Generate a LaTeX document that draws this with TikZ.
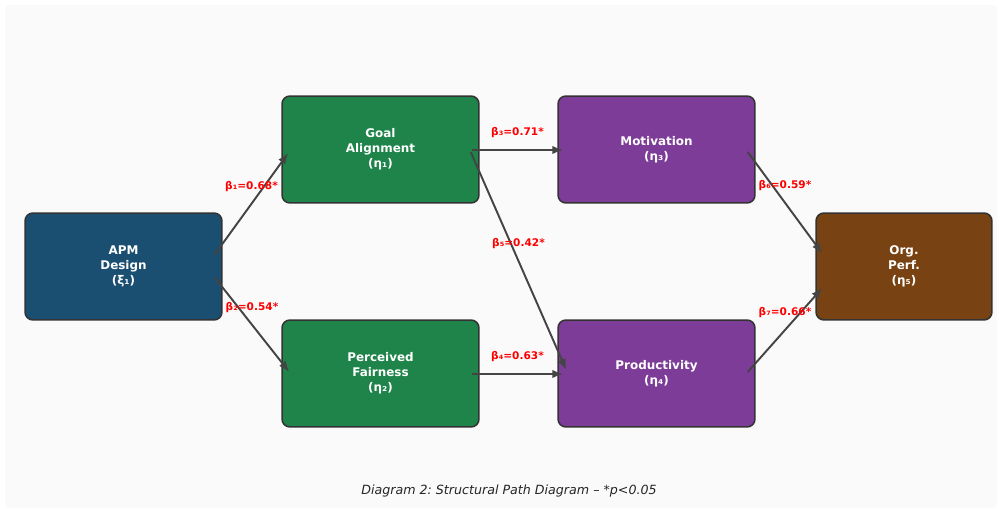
\documentclass[tikz,border=0pt]{standalone}
\usepackage{fontspec}
\setmainfont{DejaVu Sans}
\frenchspacing
\usetikzlibrary{arrows.meta, calc}
\definecolor{colorFondo}{HTML}{FAFAFA}
\definecolor{azulAPM}{HTML}{1B4F72}
\definecolor{verdeMed}{HTML}{1E8449}
\definecolor{moradoRes}{HTML}{7D3C98}
\definecolor{marronOrg}{HTML}{784212}
\definecolor{bordeGris}{HTML}{333333}
\definecolor{flechaGris}{HTML}{444444}

\begin{document}
\begin{tikzpicture}[x=0.02cm, y=-0.02cm, >=Latex,
        constructo/.style={draw=bordeGris, line width=0.85pt, rounded corners=4.5pt,
            minimum width=3.94cm, minimum height=2.14cm, align=center, text=white,
            font=\bfseries\fontsize{6.8}{8.5}\selectfont},
        ruta/.style={-{Latex[length=2.2mm, width=1.7mm]}, flechaGris, line width=1.1pt},
        beta/.style={text=red, font=\bfseries\fontsize{6}{7}\selectfont, yshift=0.34cm}]
        \useasboundingbox (0,0) rectangle (1001,510);
        \fill[colorFondo, rounded corners=2pt] (5,5) rectangle (997,508);
        \node[constructo, fill=azulAPM] (apm)   at (123.5,266.5) {APM\\Design\\(ξ₁)};
        \node[constructo, fill=verdeMed] (goal)  at (380.5,149.5) {Goal\\Alignment\\(η₁)};
        \node[constructo, fill=verdeMed] (fair)  at (380.5,373.5) {Perceived\\Fairness\\(η₂)};
        \node[constructo, fill=moradoRes] (motiv) at (656.5,149.5) {Motivation\\(η₃)};
        \node[constructo, fill=moradoRes] (prod)  at (656.5,373.5) {Productivity\\(η₄)};
        \node[constructo, fill=marronOrg, minimum width=3.52cm] (org) at (904,266.5) {Org.\\Perf.\\(η₅)};
        \draw[ruta] ($(apm.east)+(-8,-12)$) -- node[beta] (b1) {β₁=0.68*} ($(goal.west)+(7,3.5)$);
        \draw[ruta] ($(apm.east)+(-8,11)$) -- node[beta] (b2) {β₂=0.54*} ($(fair.west)+(8,-1.5)$);
        \draw[ruta] ($(goal.east)+(-8,0.5)$) -- node[beta] (b3) {β₃=0.71*} ($(motiv.west)+(6,0.5)$);
        \draw[ruta] ($(fair.east)+(-8,0.5)$) -- node[beta] (b4) {β₄=0.63*} ($(prod.west)+(6,0.5)$);
        \draw[ruta] ($(goal.east)+(-9,2.5)$) -- node[beta] (b5) {β₅=0.42*} ($(prod.west)+(9,-3.5)$);
        \draw[ruta] ($(motiv.east)+(-8,2.5)$) -- node[beta] (b6) {β₆=0.59*} ($(org.west)+(7,-13)$);
        \draw[ruta] ($(prod.east)+(-8,-1.5)$) -- node[beta] (b7) {β₇=0.66*} ($(org.west)+(7,21.5)$);
        \node[font=\itshape\fontsize{7.2}{9}\selectfont, text=black!85] (leyenda) at (509,491)
            {Diagram 2: Structural Path Diagram – *p<0.05};
    \end{tikzpicture}
\end{document}
